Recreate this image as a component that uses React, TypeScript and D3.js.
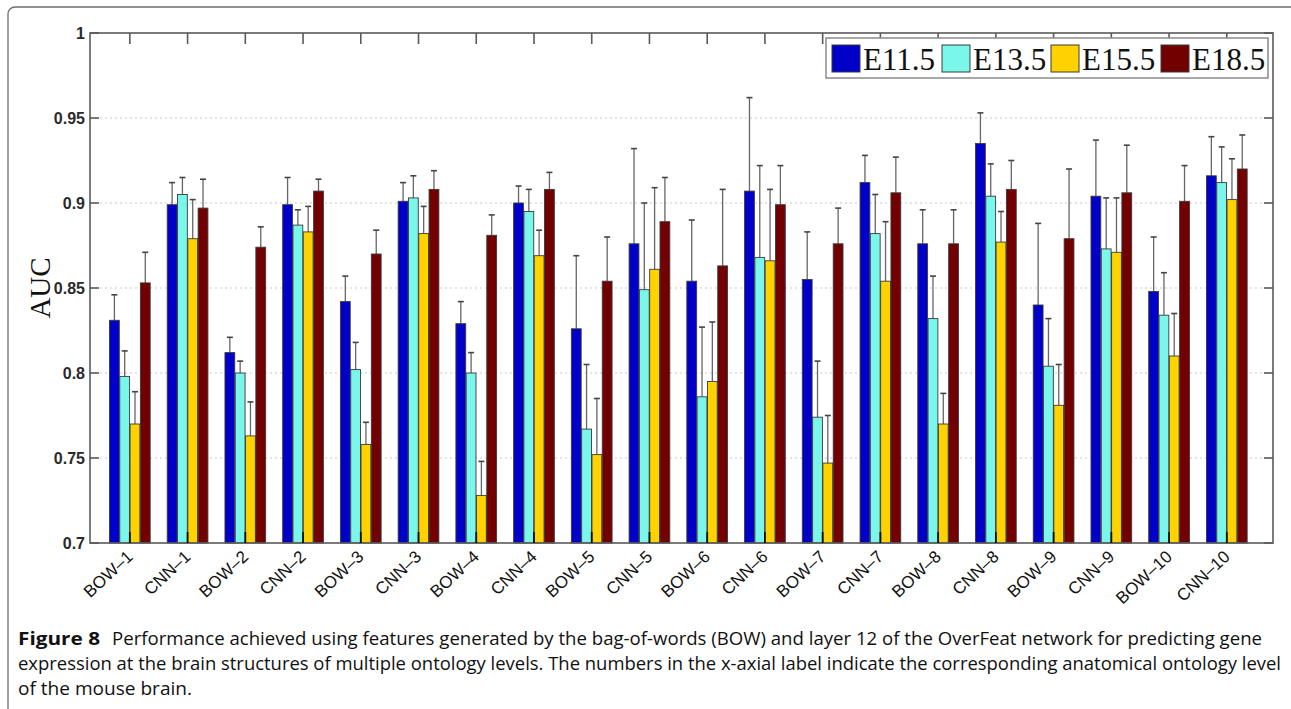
import React from "react";
import * as d3 from "d3";

const categories = ["BOW–1","CNN–1","BOW–2","CNN–2","BOW–3","CNN–3","BOW–4","CNN–4","BOW–5","CNN–5","BOW–6","CNN–6","BOW–7","CNN–7","BOW–8","CNN–8","BOW–9","CNN–9","BOW–10","CNN–10"];
const seriesNames = ["E11.5","E13.5","E15.5","E18.5"];
const seriesColors = ["#0000c8","#7af7ea","#ffd200","#730000"];

const e115 = [0.831,0.899,0.812,0.899,0.842,0.901,0.829,0.900,0.826,0.876,0.854,0.907,0.855,0.912,0.876,0.935,0.840,0.904,0.848,0.916];
const e135 = [0.798,0.905,0.800,0.887,0.802,0.903,0.800,0.895,0.767,0.849,0.786,0.868,0.774,0.882,0.832,0.904,0.804,0.873,0.834,0.912];
const e155 = [0.770,0.879,0.763,0.883,0.758,0.882,0.728,0.869,0.752,0.861,0.795,0.866,0.747,0.854,0.770,0.877,0.781,0.871,0.810,0.902];
const e185 = [0.853,0.897,0.874,0.907,0.870,0.908,0.881,0.908,0.854,0.889,0.863,0.899,0.876,0.906,0.876,0.908,0.879,0.906,0.901,0.920];

const e115Up = [0.846,0.912,0.821,0.915,0.857,0.912,0.842,0.910,0.869,0.932,0.890,0.962,0.883,0.928,0.896,0.953,0.888,0.937,0.880,0.939];
const e135Up = [0.813,0.915,0.807,0.896,0.818,0.916,0.812,0.908,0.805,0.900,0.827,0.922,0.807,0.905,0.857,0.923,0.832,0.903,0.859,0.933];
const e155Up = [0.789,0.902,0.783,0.898,0.771,0.898,0.748,0.884,0.785,0.909,0.830,0.908,0.775,0.889,0.788,0.895,0.805,0.903,0.835,0.926];
const e185Up = [0.871,0.914,0.886,0.914,0.884,0.919,0.893,0.918,0.880,0.915,0.908,0.922,0.897,0.927,0.896,0.925,0.920,0.934,0.922,0.940];

const yTicks = [0.7,0.75,0.8,0.85,0.9,0.95,1];
const yTickLabels = ["0.7","0.75","0.8","0.85","0.9","0.95","1"];

const captionBold = "Figure 8";
const captionLine1 = "Performance achieved using features generated by the bag-of-words (BOW) and layer 12 of the OverFeat network for predicting gene";
const captionLine2 = "expression at the brain structures of multiple ontology levels. The numbers in the x-axial label indicate the corresponding anatomical ontology level";
const captionLine3 = "of the mouse brain.";

export default function App() {
  const W = 1291, H = 709;
  const left = 90, right = 1273, top = 33, bottom = 543;
  const x = d3.scaleLinear().domain([0.31, 20.8]).range([left, right]);
  const y = d3.scaleLinear().domain([0.7, 1]).range([bottom, top]);
  const means = [e115, e135, e155, e185];
  const ups = [e115Up, e135Up, e155Up, e185Up];
  const step = 10.3, bw = 9.8;
  const axisCol = "#5a5a5a";

  const legendX = [832, 942, 1051, 1161];

  return (
    <svg width={W} height={H} style={{ position: "absolute", left: 0, top: 0, background: "#fff" }}>
      <rect x={8} y={7} width={1290} height={760} rx={7} fill="#fff" stroke="#6d6d6d" strokeWidth={1.3} />
      {/* grid */}
      {yTicks.slice(1, -1).map((t, i) => (
        <line key={"g" + i} x1={left} x2={right} y1={y(t)} y2={y(t)} stroke="#c8c8c8" strokeWidth={1.2} strokeDasharray="2,3" />
      ))}
      {/* error bars */}
      {categories.map((c, i) =>
        means.map((m, s) => {
          const cx = x(i + 1) + (s - 1.5) * step;
          return (
            <g key={"e" + i + "-" + s}>
              <line x1={cx} x2={cx} y1={y(m[i])} y2={y(ups[s][i])} stroke="#666" strokeWidth={1.3} />
              <line x1={cx - 3} x2={cx + 3} y1={y(ups[s][i])} y2={y(ups[s][i])} stroke="#444" strokeWidth={1.6} />
            </g>
          );
        })
      )}
      {/* bars */}
      {categories.map((c, i) =>
        means.map((m, s) => {
          const cx = x(i + 1) + (s - 1.5) * step;
          return (
            <rect key={"b" + i + "-" + s} x={cx - bw / 2} y={y(m[i])} width={bw} height={bottom - y(m[i])}
              fill={seriesColors[s]} stroke="#3a3a3a" strokeWidth={0.9} />
          );
        })
      )}
      {/* axes box */}
      <rect x={left} y={top} width={right - left} height={bottom - top} fill="none" stroke={axisCol} strokeWidth={1.6} />
      {yTicks.map((t, i) => (
        <g key={"yt" + i}>
          <line x1={left} x2={left + 9} y1={y(t)} y2={y(t)} stroke={axisCol} strokeWidth={1.6} />
          <line x1={right} x2={right - 9} y1={y(t)} y2={y(t)} stroke={axisCol} strokeWidth={1.6} />
          <text x={left - 5} y={y(t) + 6} textAnchor="end" fontFamily="Liberation Sans, Arial, sans-serif" fontSize={16} fontWeight="bold" fill="#2a2a2a">{yTickLabels[i]}</text>
        </g>
      ))}
      {categories.map((c, i) => (
        <g key={"xt" + i}>
          <line x1={x(i + 1)} x2={x(i + 1)} y1={top} y2={top + 11} stroke={axisCol} strokeWidth={1.6} />
          <line x1={x(i + 1)} x2={x(i + 1)} y1={bottom} y2={bottom - 11} stroke="#111" strokeWidth={1.8} />
          <text transform={`translate(${x(i + 1) + 4},${bottom + 15}) rotate(-43)`} textAnchor="end"
            fontFamily="Liberation Sans, Arial, sans-serif" fontSize={17} fill="#111">{c}</text>
        </g>
      ))}
      <text transform={`translate(50,288) rotate(-90)`} textAnchor="middle" fontFamily="Liberation Serif, Times New Roman, serif" fontSize={29} fill="#111">AUC</text>
      {/* legend */}
      <rect x={826} y={38} width={442} height={40} fill="#fff" stroke="#8a8a8a" strokeWidth={1.5} />
      {seriesNames.map((n, s) => (
        <g key={"l" + s}>
          <rect x={legendX[s]} y={45} width={28} height={27} fill={seriesColors[s]} stroke="#3a3a3a" strokeWidth={1} />
          <text x={legendX[s] + 31} y={70} fontFamily="Liberation Serif, Times New Roman, serif" fontSize={31} fill="#111">{n}</text>
        </g>
      ))}
      {/* caption */}
      <text x={18} y={645} fontFamily="Open Sans, sans-serif" fontSize={18} fontWeight="bold" fill="#111" textLength={82} lengthAdjust="spacingAndGlyphs">{captionBold}</text>
      <text x={112} y={645} fontFamily="Open Sans, sans-serif" fontSize={18} fill="#111" textLength={1150} lengthAdjust="spacingAndGlyphs">{captionLine1}</text>
      <text x={18} y={670} fontFamily="Open Sans, sans-serif" fontSize={18} fill="#111" textLength={1263} lengthAdjust="spacingAndGlyphs">{captionLine2}</text>
      <text x={18} y={695} fontFamily="Open Sans, sans-serif" fontSize={18} fill="#111" textLength={174} lengthAdjust="spacingAndGlyphs">{captionLine3}</text>
    </svg>
  );
}
